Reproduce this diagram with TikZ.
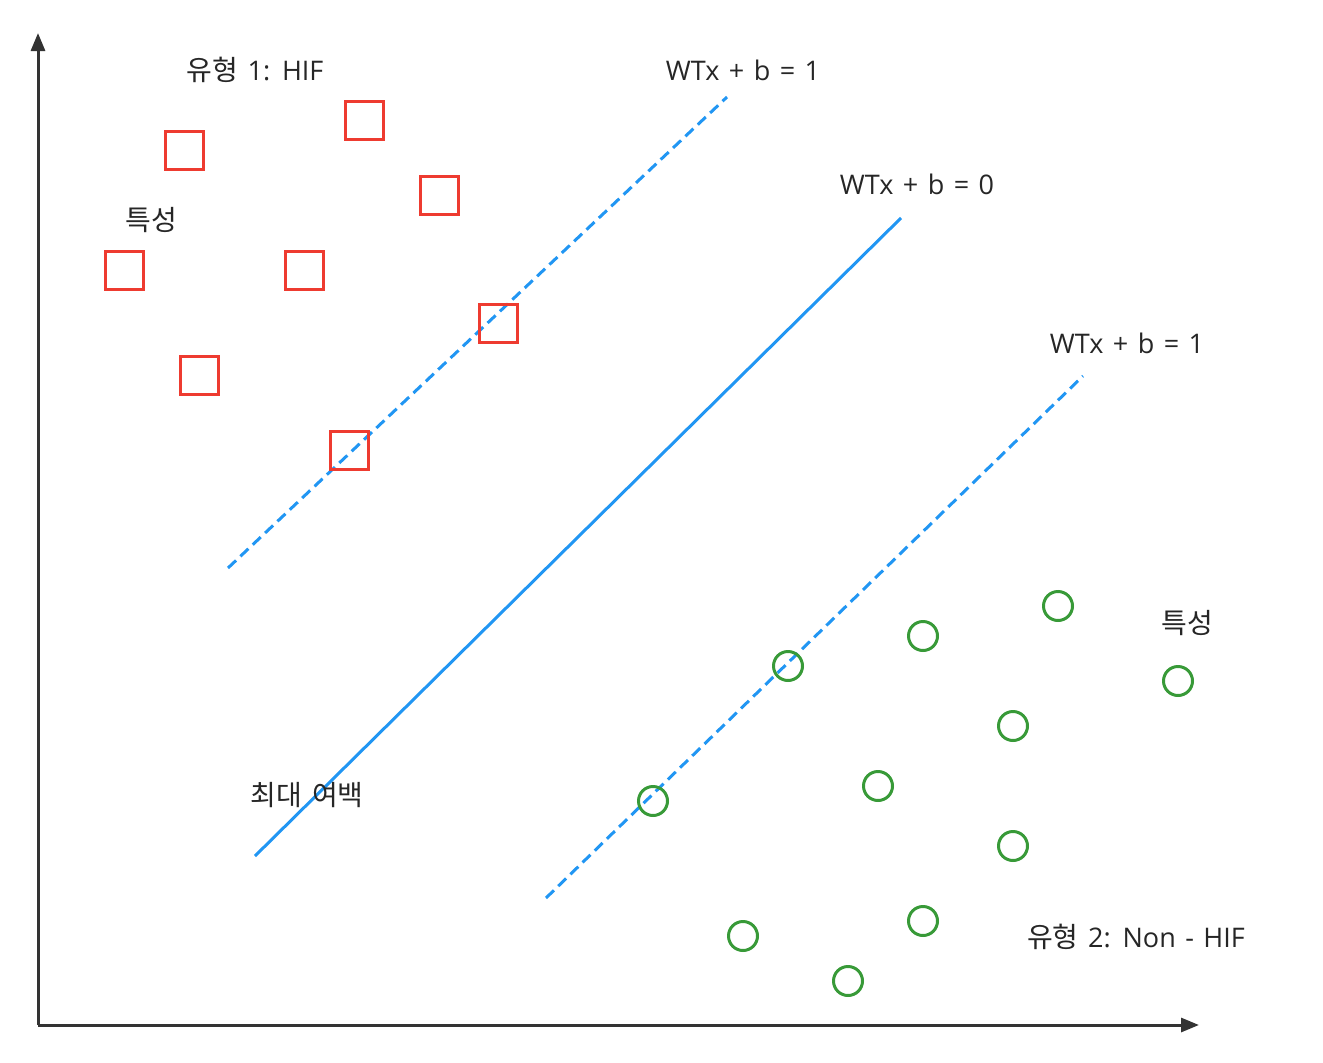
\documentclass[tikz,border=0pt]{standalone}
\usepackage{fontspec}
\setmainfont{Noto Sans CJK KR}[WordSpace=1.6]
\newfontfamily\latinfont{Open Sans}[WordSpace=1.35]
\usetikzlibrary{arrows.meta}
\definecolor{axisgray}{HTML}{333333}
\definecolor{sqred}{HTML}{EE3B30}
\definecolor{cgreen}{HTML}{389A38}
\definecolor{lblue}{HTML}{2196F3}
\definecolor{txt}{HTML}{262626}
\begin{document}
\begin{tikzpicture}[x=1pt,y=-1pt,
  axis/.style={draw=axisgray,line width=3pt,-{Triangle[length=18pt,width=14pt]}},
  sq/.style={draw=sqred,line width=3pt,minimum size=38pt,inner sep=0pt,rectangle},
  circ/.style={draw=cgreen,line width=3pt,minimum size=29pt,inner sep=0pt,circle},
  solidline/.style={draw=lblue,line width=3pt},
  dashline/.style={draw=lblue,line width=3pt,dash pattern=on 11pt off 6pt},
  lbl/.style={text=txt,font=\fontsize{28}{32}\selectfont,inner sep=0pt},
  wlbl/.style={text=txt,font=\latinfont\fontsize{27}{32}\selectfont,inner sep=0pt},
  slbl/.style={text=txt,font=\fontsize{28}{32}\selectfont,inner sep=0pt}]
\path[use as bounding box] (0,0) rectangle (1323,1063);
% axes
\coordinate (o) at (38,1025);
\coordinate (ytip) at (38,33);
\coordinate (xtip) at (1199,1025);
\draw[axis] (o) -- (ytip);
\draw[axis] (o) -- (xtip);
% lines
\coordinate (d1a) at (228,568); \coordinate (d1b) at (727,97);
\coordinate (s1a) at (255,856); \coordinate (s1b) at (901,218);
\coordinate (d2a) at (546,898); \coordinate (d2b) at (1083,376);
\draw[dashline] (d1a) -- (d1b);
\draw[solidline] (s1a) -- (s1b);
\draw[dashline] (d2a) -- (d2b);
% squares
\node[sq] (q1) at (184,150) {};
\node[sq] (q2) at (364,120) {};
\node[sq] (q3) at (439,195) {};
\node[sq] (q4) at (124,270) {};
\node[sq] (q5) at (304,270) {};
\node[sq] (q6) at (498,323) {};
\node[sq] (q7) at (199,375) {};
\node[sq] (q8) at (349,450) {};
% circles
\node[circ] (c1) at (1058,606) {};
\node[circ] (c2) at (923,636) {};
\node[circ] (c3) at (788,666) {};
\node[circ] (c4) at (1178,681) {};
\node[circ] (c5) at (1013,726) {};
\node[circ] (c6) at (878,786) {};
\node[circ] (c7) at (653,801) {};
\node[circ] (c8) at (1013,846) {};
\node[circ] (c9) at (923,921) {};
\node[circ] (c10) at (743,936) {};
\node[circ] (c11) at (848,981) {};
% labels
\node[lbl] (t1) at (255,70) {유형{\latinfont\fontsize{27}{32}\selectfont{} 1: HIF}};
\node[wlbl] (t2) at (743,70) {WTx + b = 1};
\node[wlbl] (t3) at (917,184) {WTx + b = 0};
\node[wlbl] (t4) at (1127,343) {WTx + b = 1};
\node[slbl] (t5) at (151,220) {특성};
\node[slbl] (t6) at (1187,623) {특성};
\node[slbl] (t7) at (307,795) {최대 여백};
\node[lbl] (t8) at (1136,937) {유형{\latinfont\fontsize{27}{32}\selectfont{} 2: Non - HIF}};
\end{tikzpicture}
\end{document}
